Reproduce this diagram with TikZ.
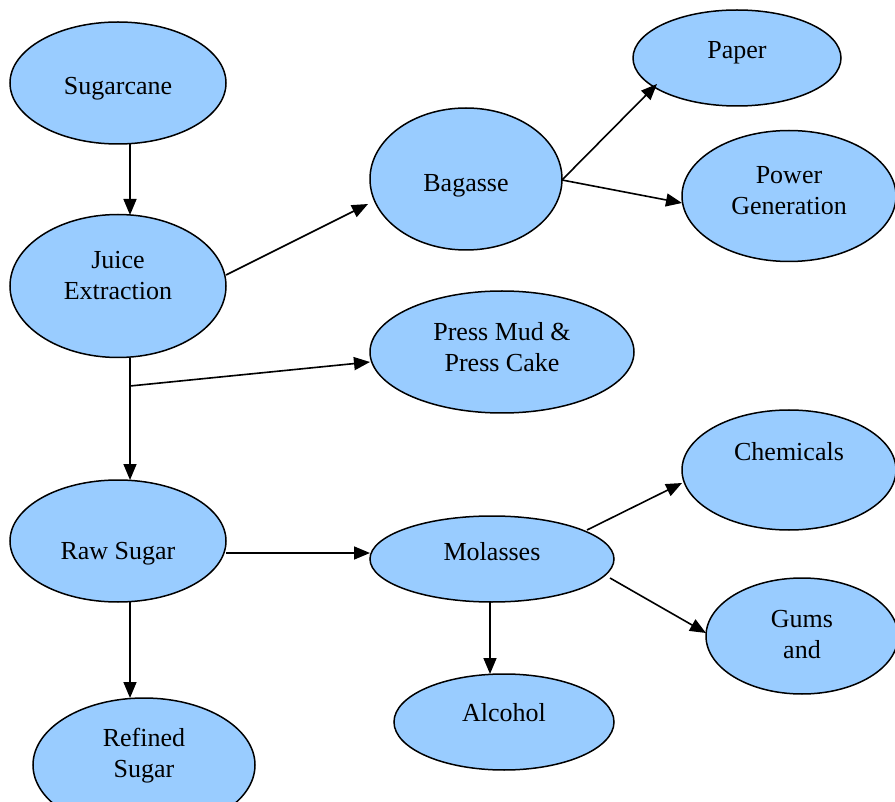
\documentclass[tikz,border=0pt]{standalone}
\usepackage{fontspec}
\setmainfont{Liberation Serif}
\usetikzlibrary{shapes.geometric,arrows.meta}
\definecolor{blobfill}{HTML}{99CCFF}
\tikzset{
  blob/.style={ellipse,draw=black,line width=1.5pt,fill=blobfill,inner sep=0pt},
  txt/.style={align=center,inner sep=0pt,font=\fontsize{26}{31}\selectfont},
  arr/.style={line width=1.6pt,-{Triangle[length=16pt,width=13pt]}},
  ln/.style={line width=1.6pt}
}
\begin{document}
\begin{tikzpicture}[x=1pt,y=-1pt]
\useasboundingbox (0,0) rectangle (895,802);
\clip (0,0) rectangle (895,802);
% ellipses
\node[blob,minimum width=216pt,minimum height=122pt] (sug) at (118,83) {};
\node[blob,minimum width=216pt,minimum height=143pt] (juice) at (118,286) {};
\node[blob,minimum width=216pt,minimum height=122pt] (raw) at (118,541) {};
\node[blob,minimum width=222pt,minimum height=134pt] (ref) at (144,765) {};
\node[blob,minimum width=192pt,minimum height=142pt] (bag) at (466,179) {};
\node[blob,minimum width=208pt,minimum height=96pt] (paper) at (737,58) {};
\node[blob,minimum width=214pt,minimum height=131pt] (power) at (789,196) {};
\node[blob,minimum width=264pt,minimum height=122pt] (press) at (502,352) {};
\node[blob,minimum width=214pt,minimum height=120pt] (chem) at (789,470) {};
\node[blob,minimum width=192pt,minimum height=116pt] (gums) at (802,636) {};
\node[blob,minimum width=244pt,minimum height=86pt] (mol) at (492,559) {};
\node[blob,minimum width=220pt,minimum height=96pt] (alc) at (504,722) {};
% texts
\node[txt] (tsug) at (118,89) {Sugarcane};
\node[txt] (tjuice) at (118,276) {Juice\\Extraction};
\node[txt] (traw) at (118,554) {Raw Sugar};
\node[txt] (tref) at (144,756) {Refined\\Sugar};
\node[txt] (tbag) at (466,186) {Bagasse};
\node[txt] (tpaper) at (737,53) {Paper};
\node[txt] (tpower) at (789,191) {Power\\Generation};
\node[txt] (tpress) at (502,347) {Press Mud \&\\Press Cake};
\node[txt] (tchem) at (789,452) {Chemicals};
\node[txt] (tgums) at (802,635) {Gums\\and};
\node[txt] (tmol) at (492,552) {Molasses};
\node[txt] (talc) at (504,713) {Alcohol};
% connectors
\coordinate (br) at ([shift={(12,100)}]juice.center);
\draw[arr] ([shift={(12,61)}]sug.center) -- ([shift={(12,-71)}]juice.center);
\draw[arr] ([shift={(108,-11)}]juice.center) -- ([shift={(-98,25)}]bag.center);
\draw[arr] ([shift={(12,72)}]juice.center) -- ([shift={(12,-61)}]raw.center);
\draw[arr] (br) -- ([shift={(-132,10)}]press.center);
\draw[arr] ([shift={(96,1)}]bag.center) -- ([shift={(-80,26)}]paper.center);
\draw[arr] ([shift={(96,1)}]bag.center) -- ([shift={(-107,7)}]power.center);
\draw[arr] ([shift={(108,12)}]raw.center) -- ([shift={(-122,-6)}]mol.center);
\draw[arr] ([shift={(12,61)}]raw.center) -- ([shift={(-14,-67)}]ref.center);
\draw[arr] ([shift={(95,-29)}]mol.center) -- ([shift={(-107,13)}]chem.center);
\draw[arr] ([shift={(118,19)}]mol.center) -- ([shift={(-96,-3)}]gums.center);
\draw[arr] ([shift={(-2,43)}]mol.center) -- ([shift={(-14,-48)}]alc.center);
\end{tikzpicture}
\end{document}
